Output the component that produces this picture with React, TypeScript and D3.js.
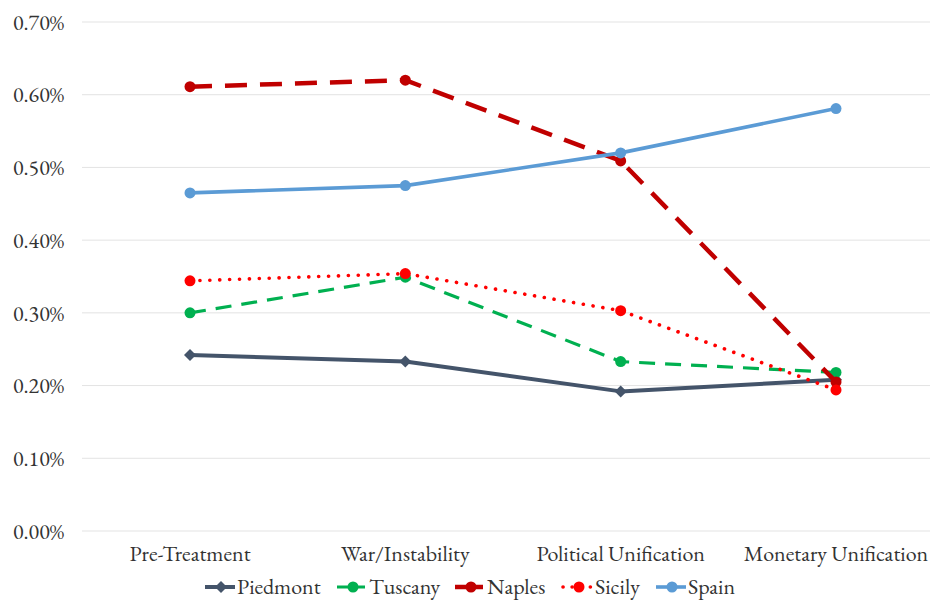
import * as d3 from "d3";

const categories = ["Pre-Treatment", "War/Instability", "Political Unification", "Monetary Unification"];
const piedmont = [0.242, 0.233, 0.192, 0.208];
const tuscany = [0.300, 0.349, 0.233, 0.218];
const naples = [0.611, 0.620, 0.509, 0.205];
const sicily = [0.344, 0.354, 0.303, 0.194];
const spain = [0.465, 0.475, 0.520, 0.581];
const yTicks = [0, 0.1, 0.2, 0.3, 0.4, 0.5, 0.6, 0.7];

const W = 933;
const H = 600;
const FONT = "Garamond, 'EB Garamond', 'Liberation Serif', 'DejaVu Serif', serif";

type Series = {
  name: string;
  values: number[];
  color: string;
  width: number;
  dash?: string;
  cap?: "round" | "butt";
  marker: "circle" | "diamond";
  r: number;
};

const series: Series[] = [
  { name: "Piedmont", values: piedmont, color: "#44546A", width: 4, marker: "diamond", r: 6 },
  { name: "Tuscany", values: tuscany, color: "#00B050", width: 3.2, dash: "16,10", marker: "circle", r: 5.5 },
  { name: "Naples", values: naples, color: "#C00000", width: 4.5, dash: "22,13", marker: "circle", r: 5.5 },
  { name: "Sicily", values: sicily, color: "#FF0000", width: 3.6, dash: "0.1,9.8", cap: "round", marker: "circle", r: 5.5 },
  { name: "Spain", values: spain, color: "#5B9BD5", width: 3.6, marker: "circle", r: 5.5 },
];

// legend entry left edges
const legendX = [205, 337, 455, 563, 656];
const legendY = 586;

export default function App() {
  const x = d3.scalePoint<string>().domain(categories).range([190, 836]);
  const y = d3.scaleLinear().domain([0, 0.7]).range([531, 22]);
  const line = d3.line<number>().x((_, i) => x(categories[i])!).y((d) => y(d));
  const fmt = (v: number) => v.toFixed(2) + "%";

  const marker = (s: Series, cx: number, cy: number, key: string | number) =>
    s.marker === "diamond" ? (
      <path key={key} d={`M${cx},${cy - s.r}L${cx + s.r},${cy}L${cx},${cy + s.r}L${cx - s.r},${cy}Z`} fill={s.color} />
    ) : (
      <circle key={key} cx={cx} cy={cy} r={s.r} fill={s.color} />
    );

  return (
    <svg width={W} height={H} style={{ position: "absolute", left: 0, top: 0, background: "#fff" }} fontFamily={FONT}>
      {yTicks.map((t) => (
        <g key={t}>
          <line x1={82} x2={930} y1={y(t)} y2={y(t)} stroke="#E3E3E3" strokeWidth={1} />
          <text x={64} y={y(t)} dy="0.35em" textAnchor="end" fontSize={22} fill="#333">
            {fmt(t)}
          </text>
        </g>
      ))}
      {categories.map((c) => (
        <text key={c} x={x(c)} y={561} textAnchor="middle" fontSize={22} fill="#333">
          {c}
        </text>
      ))}
      {series.map((s) => (
        <g key={s.name}>
          <path
            d={line(s.values)!}
            fill="none"
            stroke={s.color}
            strokeWidth={s.width}
            strokeDasharray={s.dash}
            strokeLinecap={s.cap ?? "butt"}
            strokeLinejoin="round"
          />
          {s.values.map((v, i) => marker(s, x(categories[i])!, y(v), i))}
        </g>
      ))}
      {series.map((s, i) => {
        const lx = legendX[i];
        return (
          <g key={s.name}>
            <line
              x1={lx}
              x2={lx + 30}
              y1={legendY + 1}
              y2={legendY + 1}
              stroke={s.color}
              strokeWidth={s.width}
              strokeDasharray={s.dash ? (s.cap === "round" ? "0.1,9" : "12,4") : undefined}
              strokeLinecap={s.cap ?? "butt"}
            />
            {marker(s, lx + 16, legendY + 1, "m")}
            <text x={lx + 32} y={legendY} dy="0.35em" fontSize={22} fill="#333">
              {s.name}
            </text>
          </g>
        );
      })}
    </svg>
  );
}
